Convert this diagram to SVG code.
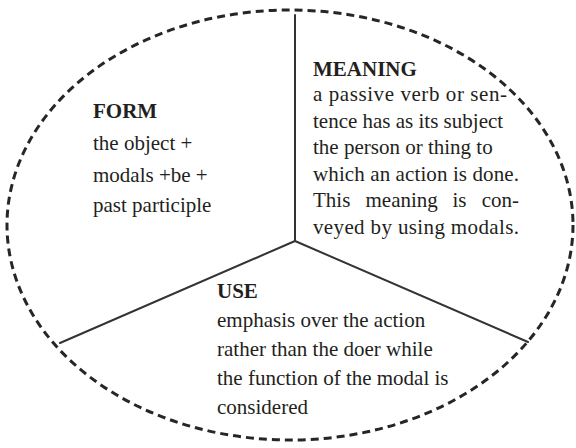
<svg xmlns="http://www.w3.org/2000/svg" width="576" height="448" viewBox="0 0 576 448">
<style>
.bg{fill:#ffffff}
.outline{fill:none;stroke:#262626;stroke-width:3;stroke-dasharray:8 5}
.div{fill:none;stroke:#333333;stroke-width:2;stroke-linecap:round}
text{font-family:"Liberation Serif","Times New Roman",serif;font-size:21px;fill:#231f20}
.h{font-weight:bold}
</style>
<rect class="bg" x="0" y="0" width="576" height="448"/>
<g id="boundary">
<ellipse class="outline" cx="290" cy="225" rx="283" ry="215"/>
</g>
<g id="connectors">
<line class="div" x1="295" y1="15" x2="295" y2="241"/>
<line class="div" x1="295" y1="241" x2="60" y2="343"/>
<line class="div" x1="295" y1="241" x2="528" y2="342"/>
</g>
<g id="form">
<text class="h" x="93" y="118">FORM</text>
<text x="93" y="150">the object +</text>
<text x="93" y="181.5">modals +be +</text>
<text x="93" y="212">past participle</text>
</g>
<g id="meaning">
<text class="h" x="313" y="76">MEANING</text>
<text x="313" y="101" textLength="194" lengthAdjust="spacing">a passive verb or sen-</text>
<text x="313" y="127.5">tence has as its subject</text>
<text x="313" y="154">the person or thing to</text>
<text x="313" y="180.5" textLength="206" lengthAdjust="spacing">which an action is done.</text>
<text y="207"><tspan x="313">This</tspan><tspan x="365.5">meaning</tspan><tspan x="452.5">is</tspan><tspan x="481.7">con-</tspan></text>
<text x="313" y="233.5" textLength="206" lengthAdjust="spacing">veyed by using modals.</text>
</g>
<g id="use">
<text class="h" x="217" y="298">USE</text>
<text x="217" y="327">emphasis over the action</text>
<text x="217" y="356">rather than the doer while</text>
<text x="217" y="385">the function of the modal is</text>
<text x="217" y="414">considered</text>
</g>
</svg>
